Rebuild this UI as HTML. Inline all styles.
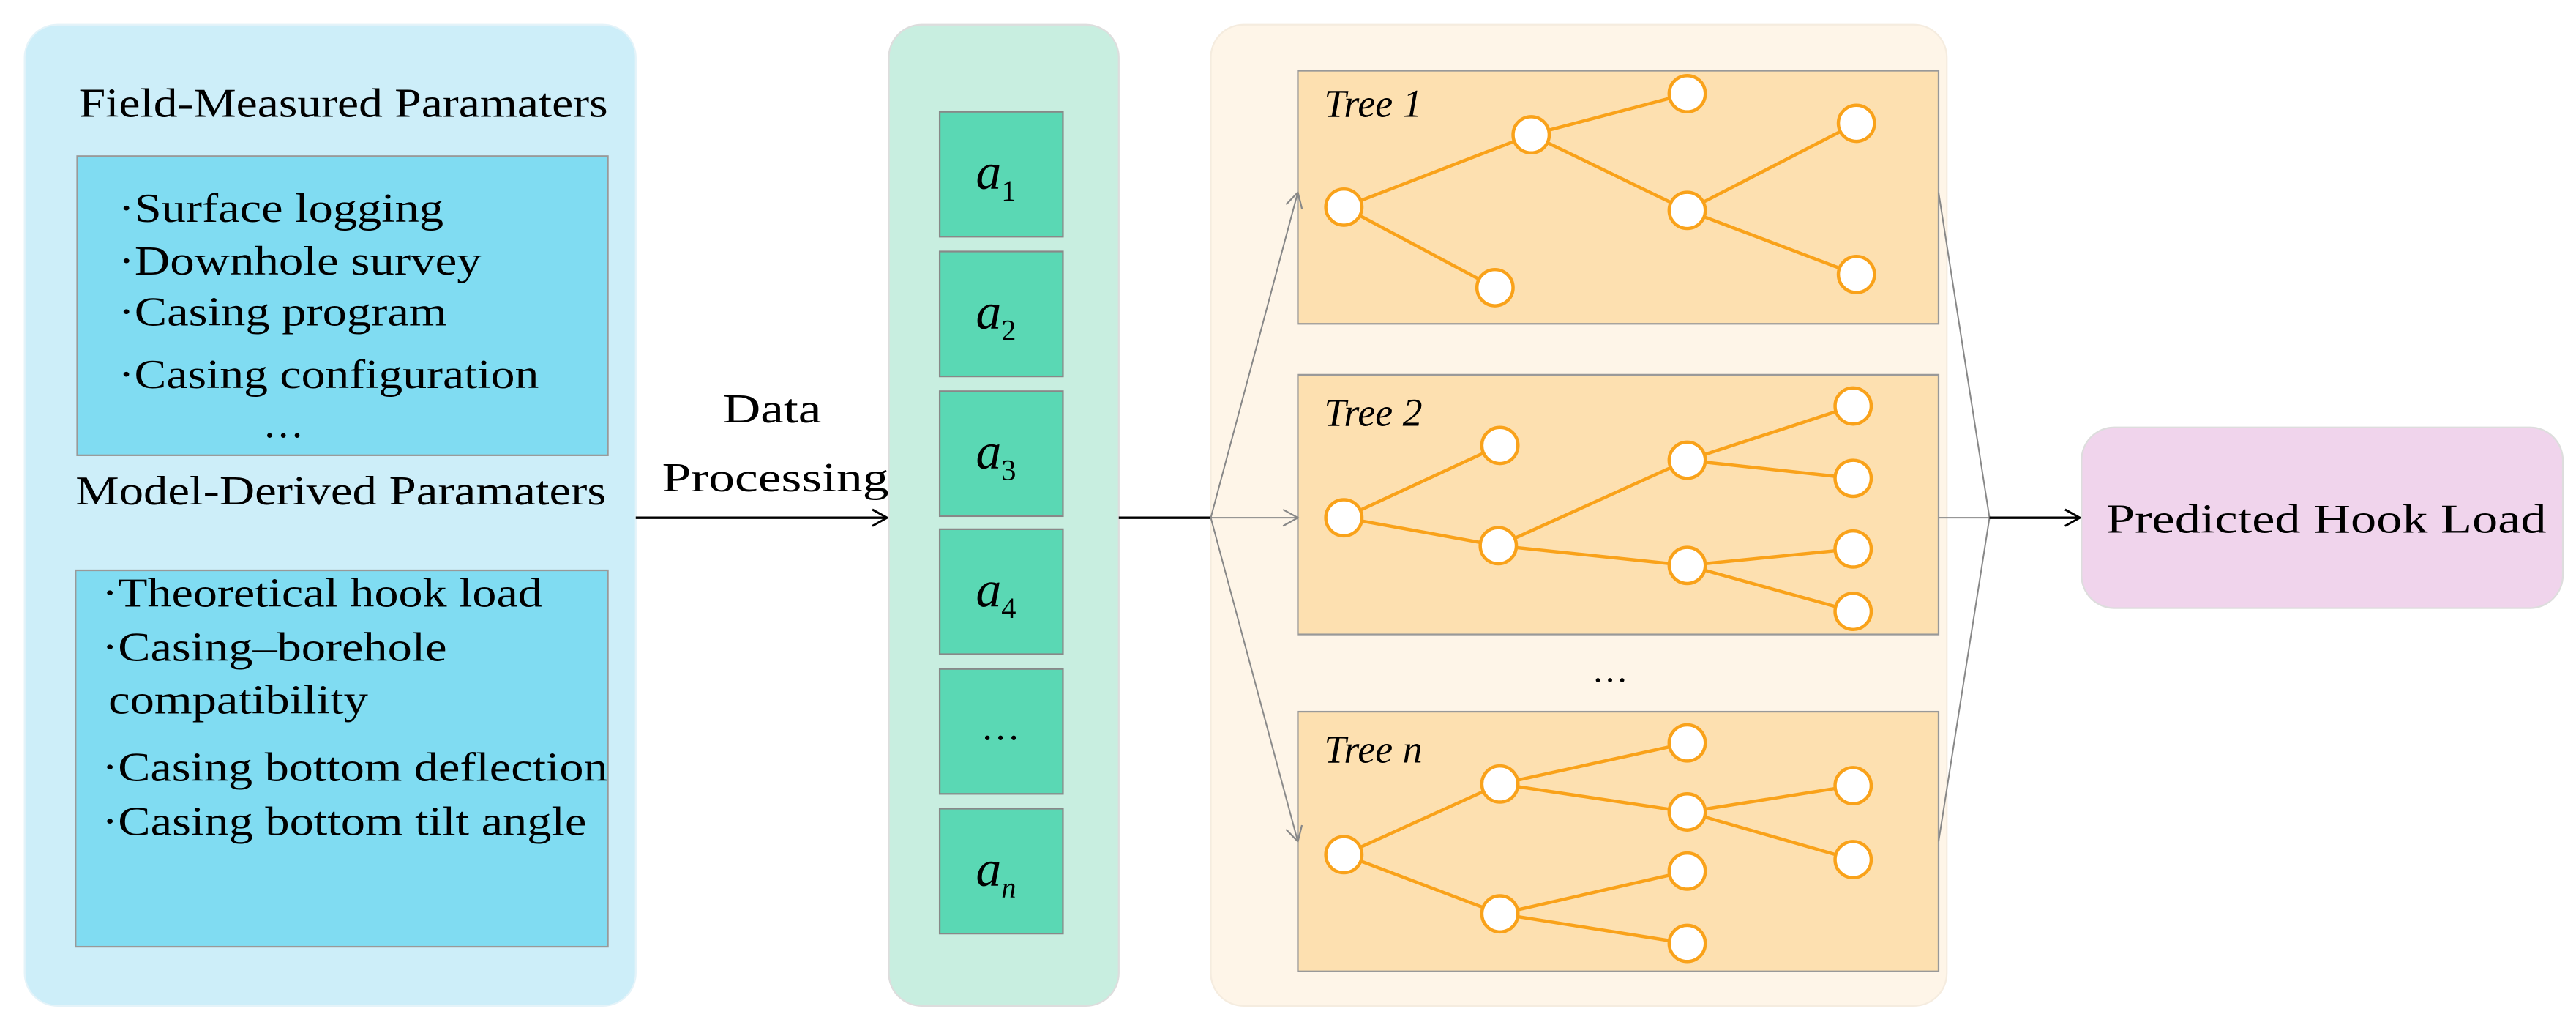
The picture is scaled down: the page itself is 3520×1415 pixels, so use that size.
<!DOCTYPE html>
<html><head><meta charset="utf-8"><style>html,body{margin:0;padding:0;background:#fff}svg{display:block}</style></head>
<body>
<svg width="3520" height="1415" viewBox="0 0 1568 630.3" xmlns="http://www.w3.org/2000/svg" font-family="'Liberation Serif', serif">
<defs>
<marker id="ab" markerWidth="12" markerHeight="12" refX="10" refY="6" orient="auto" markerUnits="userSpaceOnUse"><path d="M1,1 L10,6 L1,11" fill="none" stroke="#000" stroke-width="1.3"/></marker>
<marker id="ag" markerWidth="12" markerHeight="12" refX="10" refY="6" orient="auto" markerUnits="userSpaceOnUse"><path d="M1,1 L10,6 L1,11" fill="none" stroke="#888" stroke-width="1"/></marker>
</defs>
<rect x="15" y="15" width="372" height="597" rx="20" fill="#cdeef9" stroke="#e4f3f9"/>
<text x="48" y="71" font-size="25" textLength="322" lengthAdjust="spacingAndGlyphs">Field-Measured Paramaters</text>
<rect x="47" y="95" width="323" height="182" fill="#80dcf2" stroke="#999" stroke-width="1"/>
<g font-size="25" lengthAdjust="spacingAndGlyphs">
<text x="72" y="135" textLength="198" lengthAdjust="spacingAndGlyphs">·Surface logging</text>
<text x="72" y="167" textLength="221" lengthAdjust="spacingAndGlyphs">·Downhole survey</text>
<text x="72" y="198" textLength="200" lengthAdjust="spacingAndGlyphs">·Casing program</text>
<text x="72" y="236" textLength="256" lengthAdjust="spacingAndGlyphs">·Casing configuration</text>
<text x="160" y="266">…</text>
</g>
<text x="46" y="307" font-size="25" textLength="323" lengthAdjust="spacingAndGlyphs">Model-Derived Paramaters</text>
<rect x="46" y="347" width="324" height="229" fill="#80dcf2" stroke="#999" stroke-width="1"/>
<g font-size="25">
<text x="62" y="369" textLength="268" lengthAdjust="spacingAndGlyphs">·Theoretical hook load</text>
<text x="62" y="402" textLength="210" lengthAdjust="spacingAndGlyphs">·Casing–borehole</text>
<text x="66" y="434" textLength="158" lengthAdjust="spacingAndGlyphs">compatibility</text>
<text x="62" y="475" textLength="308" lengthAdjust="spacingAndGlyphs">·Casing bottom deflection</text>
<text x="62" y="508" textLength="295" lengthAdjust="spacingAndGlyphs">·Casing bottom tilt angle</text>
</g>
<line x1="387" y1="315" x2="540" y2="315" stroke="#000" stroke-width="1.5" marker-end="url(#ab)"/>
<text x="440" y="257" font-size="25" textLength="60" lengthAdjust="spacingAndGlyphs">Data</text>
<text x="403" y="299" font-size="25" textLength="138" lengthAdjust="spacingAndGlyphs">Processing</text>
<rect x="541" y="15" width="140" height="597" rx="20" fill="#c8eee0" stroke="#ddd"/>
<g fill="#5ad8b4" stroke="#888" stroke-width="1">
<rect x="572" y="68" width="75" height="76"/><rect x="572" y="153" width="75" height="76"/><rect x="572" y="238" width="75" height="76"/>
<rect x="572" y="322" width="75" height="76"/><rect x="572" y="407" width="75" height="76"/><rect x="572" y="492" width="75" height="76"/>
</g>
<g font-size="31" font-style="italic">
<text x="594" y="115">a<tspan font-size="18" font-style="normal" dy="7">1</tspan></text>
<text x="594" y="200">a<tspan font-size="18" font-style="normal" dy="7">2</tspan></text>
<text x="594" y="285">a<tspan font-size="18" font-style="normal" dy="7">3</tspan></text>
<text x="594" y="369">a<tspan font-size="18" font-style="normal" dy="7">4</tspan></text>
<text x="597" y="450" font-style="normal" font-size="24">…</text>
<text x="594" y="539">a<tspan font-size="18" dy="7">n</tspan></text>
</g>
<line x1="681" y1="315" x2="737" y2="315" stroke="#000" stroke-width="1.5"/>
<rect x="737" y="15" width="448" height="597" rx="20" fill="#fef5e8" stroke="#f5ecdf"/>
<g fill="#fde0b0" stroke="#999" stroke-width="1">
<rect x="790" y="43" width="390" height="154"/><rect x="790" y="228" width="390" height="158"/><rect x="790" y="433" width="390" height="158"/>
</g>
<g stroke="#888" stroke-width="0.9" fill="none">
<line x1="737" y1="315" x2="790" y2="117" marker-end="url(#ag)"/>
<line x1="737" y1="315" x2="790" y2="315" marker-end="url(#ag)"/>
<line x1="737" y1="315" x2="790" y2="512" marker-end="url(#ag)"/>
<line x1="1180" y1="117" x2="1211" y2="315"/>
<line x1="1180" y1="315" x2="1211" y2="315"/>
<line x1="1180" y1="512" x2="1211" y2="315"/>
</g>
<line x1="1211" y1="315" x2="1266" y2="315" stroke="#000" stroke-width="1.5" marker-end="url(#ab)"/>
<rect x="1267" y="260" width="293" height="110" rx="20" fill="#f0d4ec" stroke="#ddd"/>
<text x="1282" y="324" font-size="25" textLength="268" lengthAdjust="spacingAndGlyphs">Predicted Hook Load</text>
<g font-size="24" font-style="italic">
<text x="806" y="71">Tree 1</text><text x="806" y="259">Tree 2</text><text x="806" y="464">Tree n</text>
</g>
<text x="980" y="415" font-size="22" text-anchor="middle">…</text>
<g stroke="#f9a21a" stroke-width="2" fill="none">
<path d="M818,126L932,82M818,126L910,175M932,82L1027,57M932,82L1027,128M1027,128L1130,75M1027,128L1130,167"/>
<path d="M818,315L913,271M818,315L912,332M912,332L1027,280M912,332L1027,344M1027,280L1128,247M1027,280L1128,291M1027,344L1128,334M1027,344L1128,372"/>
<path d="M818,520L913,477M818,520L913,556M913,477L1027,452M913,477L1027,494M1027,494L1128,478M1027,494L1128,523M913,556L1027,530M913,556L1027,574"/>
</g>
<g fill="#fff" stroke="#f9a21a" stroke-width="2">
<circle cx="818" cy="126" r="11"/><circle cx="932" cy="82" r="11"/><circle cx="1027" cy="57" r="11"/><circle cx="1027" cy="128" r="11"/><circle cx="1130" cy="75" r="11"/><circle cx="1130" cy="167" r="11"/><circle cx="910" cy="175" r="11"/>
<circle cx="818" cy="315" r="11"/><circle cx="913" cy="271" r="11"/><circle cx="912" cy="332" r="11"/><circle cx="1027" cy="280" r="11"/><circle cx="1027" cy="344" r="11"/><circle cx="1128" cy="247" r="11"/><circle cx="1128" cy="291" r="11"/><circle cx="1128" cy="334" r="11"/><circle cx="1128" cy="372" r="11"/>
<circle cx="818" cy="520" r="11"/><circle cx="913" cy="477" r="11"/><circle cx="913" cy="556" r="11"/><circle cx="1027" cy="452" r="11"/><circle cx="1027" cy="494" r="11"/><circle cx="1027" cy="530" r="11"/><circle cx="1027" cy="574" r="11"/><circle cx="1128" cy="478" r="11"/><circle cx="1128" cy="523" r="11"/>
</g>
</svg>
</body></html>
